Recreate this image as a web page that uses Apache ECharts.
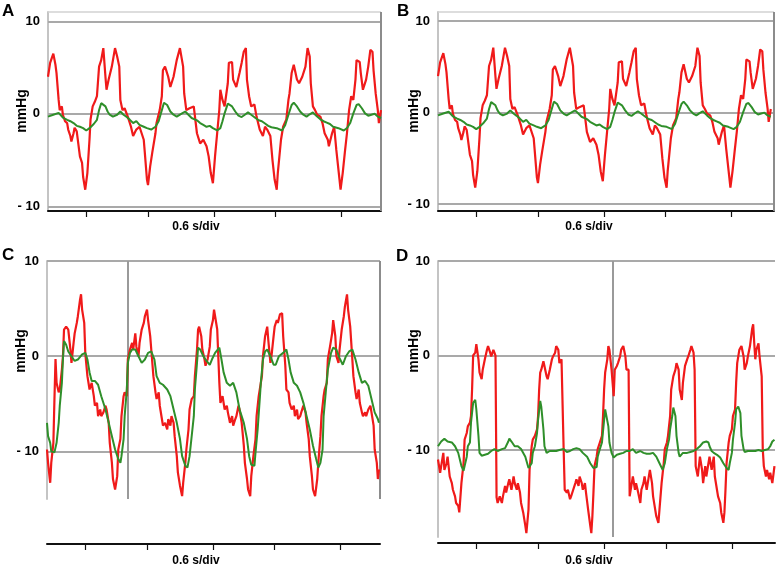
<!DOCTYPE html>
<html><head><meta charset="utf-8">
<script src="https://cdn.jsdelivr.net/npm/echarts@6/dist/echarts.min.js"></script>
<style>html,body{margin:0;padding:0;background:#fff}#c{width:778px;height:567px}</style>
</head><body><div id="c"></div>
<script>
// ---- data: [time (s), pressure (mmHg)] ----
const aRed = [[0.00,4.0],[0.02,5.5],[0.05,6.5],[0.07,5.3],[0.08,4.4],[0.10,1.5],[0.11,0.4],[0.13,0.8],[0.14,-0.1],[0.16,-0.8],[0.18,-1.0],[0.19,-1.7],[0.21,-2.4],[0.22,-3.0],[0.24,-2.1],[0.25,-1.5],[0.27,-1.9],[0.28,-2.8],[0.30,-4.6],[0.32,-5.3],[0.33,-6.8],[0.35,-8.2],[0.37,-6.4],[0.39,-2.8],[0.40,-0.6],[0.42,0.8],[0.44,1.3],[0.46,1.9],[0.48,5.1],[0.50,5.8],[0.52,7.1],[0.54,4.0],[0.55,2.6],[0.57,3.7],[0.60,5.1],[0.63,7.1],[0.65,6.2],[0.67,5.1],[0.68,1.5],[0.70,0.4],[0.72,0.6],[0.75,-0.3],[0.78,-1.4],[0.80,-2.4],[0.83,-1.7],[0.86,-1.4],[0.90,-2.8],[0.91,-4.2],[0.93,-7.1],[0.94,-7.7],[0.96,-5.7],[0.98,-4.2],[1.01,-2.1],[1.02,-1.0],[1.05,0.4],[1.07,1.9],[1.08,4.7],[1.10,5.1],[1.13,4.0],[1.15,2.9],[1.18,4.0],[1.21,5.8],[1.24,7.1],[1.27,5.1],[1.28,2.2],[1.30,0.4],[1.33,0.6],[1.37,0.8],[1.40,-2.1],[1.43,-3.2],[1.46,-2.8],[1.49,-3.5],[1.51,-4.6],[1.53,-6.4],[1.55,-7.5],[1.57,-4.6],[1.59,-2.1],[1.61,0.4],[1.62,2.6],[1.64,1.5],[1.66,0.8],[1.69,3.3],[1.70,5.5],[1.73,5.6],[1.74,3.7],[1.77,2.9],[1.80,4.4],[1.82,5.5],[1.84,6.7],[1.86,7.1],[1.87,3.7],[1.89,1.9],[1.91,0.8],[1.94,1.0],[1.96,-0.3],[1.99,-1.7],[2.02,-2.4],[2.04,-1.4],[2.06,-1.7],[2.09,-2.4],[2.11,-5.0],[2.13,-7.1],[2.15,-8.2],[2.16,-6.4],[2.19,-2.8],[2.21,-1.4],[2.24,-0.6],[2.26,1.5],[2.27,2.2],[2.29,4.4],[2.31,5.3],[2.34,3.7],[2.36,3.3],[2.39,4.0],[2.42,5.1],[2.44,7.1],[2.46,6.2],[2.47,3.3],[2.49,0.8],[2.51,0.4],[2.53,-0.1],[2.56,-0.3],[2.58,-1.0],[2.60,-2.1],[2.63,-2.8],[2.64,-3.5],[2.67,-2.1],[2.69,-1.4],[2.71,-3.9],[2.74,-7.1],[2.75,-8.2],[2.77,-6.4],[2.79,-4.2],[2.81,-2.1],[2.83,0.4],[2.85,1.9],[2.87,1.5],[2.89,3.7],[2.90,5.8],[2.93,5.6],[2.94,4.4],[2.96,2.6],[2.99,3.7],[3.01,5.1],[3.03,6.9],[3.05,6.7],[3.06,4.7],[3.08,2.2],[3.10,0.4],[3.11,-1.0],[3.13,0.4]];
const aGreen = [[0.00,-0.3],[0.05,-0.1],[0.10,0.1],[0.14,-0.4],[0.18,-0.65],[0.21,-0.8],[0.24,-1.0],[0.27,-1.3],[0.30,-1.4],[0.33,-1.55],[0.36,-1.8],[0.39,-1.55],[0.43,-1.1],[0.46,-0.65],[0.48,0.4],[0.50,1.15],[0.54,0.8],[0.56,0.25],[0.58,-0.1],[0.61,-0.3],[0.65,-0.1],[0.68,0.25],[0.71,-0.1],[0.74,-0.35],[0.77,-0.65],[0.80,-1.0],[0.83,-0.8],[0.86,-1.2],[0.90,-1.4],[0.93,-1.55],[0.97,-1.7],[1.01,-1.4],[1.04,-0.8],[1.07,0.4],[1.09,1.2],[1.12,0.95],[1.15,0.25],[1.18,-0.1],[1.21,-0.3],[1.26,0.05],[1.29,0.25],[1.32,-0.1],[1.35,-0.45],[1.40,-0.7],[1.43,-1.0],[1.46,-1.2],[1.49,-1.4],[1.52,-1.3],[1.55,-1.55],[1.59,-1.8],[1.62,-1.55],[1.64,-0.8],[1.66,0.05],[1.69,1.1],[1.73,0.8],[1.76,0.25],[1.79,-0.2],[1.82,-0.35],[1.85,-0.1],[1.88,0.15],[1.91,-0.1],[1.95,-0.45],[1.98,-0.7],[2.01,-0.8],[2.04,-1.05],[2.07,-1.3],[2.10,-1.45],[2.15,-1.55],[2.20,-1.8],[2.23,-1.2],[2.26,-0.1],[2.29,0.95],[2.31,1.2],[2.34,0.8],[2.37,0.25],[2.40,-0.1],[2.43,-0.3],[2.46,-0.05],[2.49,0.15],[2.53,-0.3],[2.56,-0.6],[2.59,-0.8],[2.62,-0.95],[2.65,-1.1],[2.68,-1.4],[2.73,-1.55],[2.78,-1.8],[2.81,-1.55],[2.84,-1.0],[2.87,0.05],[2.90,0.95],[2.92,1.05],[2.95,0.6],[2.98,0.05],[3.01,-0.2],[3.04,-0.1],[3.07,0.0],[3.10,-0.3],[3.13,-0.45]];
const bRed = aRed;
const bGreen = aGreen;
const cRed = [[0.00,-9.8],[0.01,-11.2],[0.03,-13.3],[0.04,-11.2],[0.06,-9.1],[0.07,-4.5],[0.08,-0.3],[0.09,-2.8],[0.11,-3.8],[0.12,-3.5],[0.14,-1.4],[0.15,0.0],[0.16,2.8],[0.18,3.1],[0.20,2.8],[0.22,0.7],[0.23,-0.7],[0.25,1.4],[0.26,2.4],[0.28,3.5],[0.29,4.2],[0.31,5.9],[0.32,6.5],[0.33,4.9],[0.35,3.5],[0.36,0.3],[0.38,-2.1],[0.40,-3.5],[0.42,-2.8],[0.44,-4.2],[0.45,-5.2],[0.47,-4.9],[0.48,-6.3],[0.50,-5.6],[0.51,-6.3],[0.53,-5.9],[0.55,-5.2],[0.56,-5.6],[0.58,-7.0],[0.59,-9.1],[0.61,-11.2],[0.62,-12.9],[0.64,-14.0],[0.66,-12.6],[0.67,-9.8],[0.69,-8.7],[0.70,-6.3],[0.72,-4.2],[0.73,-3.8],[0.75,-4.2],[0.76,-0.3],[0.78,0.7],[0.80,1.4],[0.81,0.7],[0.83,2.4],[0.84,1.0],[0.86,0.0],[0.87,1.4],[0.89,2.8],[0.91,3.5],[0.92,4.2],[0.94,4.9],[0.95,3.8],[0.97,2.1],[0.98,0.7],[1.00,-2.1],[1.02,-3.8],[1.03,-4.5],[1.05,-3.8],[1.06,-5.2],[1.08,-6.6],[1.09,-7.3],[1.11,-7.0],[1.13,-7.7],[1.14,-6.6],[1.16,-7.3],[1.17,-6.3],[1.19,-7.0],[1.20,-8.4],[1.22,-10.5],[1.23,-12.2],[1.25,-13.6],[1.27,-14.7],[1.28,-13.3],[1.30,-11.2],[1.31,-9.8],[1.33,-7.7],[1.34,-5.6],[1.36,-4.5],[1.38,-4.2],[1.39,-2.1],[1.41,0.7],[1.42,2.8],[1.43,3.1],[1.45,2.1],[1.46,0.7],[1.48,-0.3],[1.49,-1.0],[1.51,-0.3],[1.53,1.0],[1.54,2.8],[1.56,3.8],[1.57,4.9],[1.58,4.2],[1.60,2.8],[1.61,0.0],[1.62,-2.8],[1.63,-4.9],[1.65,-4.2],[1.67,-5.6],[1.69,-5.2],[1.70,-5.9],[1.72,-7.0],[1.74,-6.3],[1.75,-7.3],[1.77,-6.6],[1.78,-6.3],[1.80,-5.2],[1.81,-5.6],[1.83,-7.0],[1.85,-9.4],[1.86,-11.2],[1.88,-12.9],[1.89,-14.0],[1.91,-14.7],[1.92,-12.6],[1.94,-10.5],[1.96,-8.7],[1.97,-6.3],[1.99,-4.2],[2.00,-3.5],[2.02,-2.1],[2.03,0.0],[2.05,2.1],[2.07,3.1],[2.08,1.7],[2.10,-0.7],[2.11,0.0],[2.13,2.1],[2.14,3.1],[2.16,3.8],[2.17,3.5],[2.19,4.4],[2.21,4.5],[2.22,2.1],[2.24,-1.0],[2.25,-3.5],[2.27,-3.8],[2.28,-4.9],[2.30,-5.6],[2.32,-5.2],[2.33,-6.3],[2.35,-5.6],[2.36,-6.6],[2.38,-6.3],[2.39,-5.9],[2.41,-5.2],[2.43,-5.9],[2.44,-7.0],[2.46,-8.7],[2.47,-10.5],[2.49,-12.6],[2.50,-14.0],[2.52,-14.7],[2.54,-12.9],[2.55,-11.2],[2.57,-8.4],[2.58,-6.3],[2.60,-4.2],[2.61,-3.5],[2.63,-2.8],[2.64,-0.3],[2.66,1.0],[2.68,2.4],[2.69,3.8],[2.71,2.1],[2.72,0.0],[2.74,-0.7],[2.75,0.7],[2.77,2.8],[2.79,4.2],[2.80,5.2],[2.82,6.5],[2.83,4.9],[2.85,3.1],[2.86,1.4],[2.88,-2.1],[2.90,-3.8],[2.91,-4.5],[2.93,-3.5],[2.94,-4.9],[2.96,-5.9],[2.97,-6.3],[2.99,-5.9],[3.00,-6.3],[3.02,-5.6],[3.04,-5.2],[3.05,-5.9],[3.07,-7.3],[3.08,-9.8],[3.10,-11.2],[3.11,-12.9],[3.12,-11.9]];
const cGreen = [[0.00,-7.0],[0.01,-8.4],[0.03,-9.1],[0.04,-10.0],[0.07,-10.1],[0.09,-9.1],[0.11,-7.0],[0.12,-5.2],[0.14,-2.8],[0.15,-0.3],[0.16,1.6],[0.18,1.2],[0.20,0.5],[0.23,0.0],[0.26,-0.5],[0.29,-0.35],[0.33,0.2],[0.36,0.35],[0.38,-0.35],[0.40,-1.7],[0.42,-2.6],[0.45,-2.6],[0.48,-3.0],[0.51,-4.2],[0.55,-5.6],[0.58,-7.0],[0.61,-8.4],[0.64,-9.8],[0.67,-10.8],[0.69,-11.2],[0.70,-10.5],[0.72,-8.7],[0.73,-6.3],[0.75,-3.5],[0.76,-0.7],[0.78,0.35],[0.80,0.7],[0.83,0.7],[0.86,0.0],[0.89,-0.7],[0.92,-0.35],[0.95,0.35],[0.98,0.5],[1.01,-0.35],[1.03,-2.1],[1.06,-2.8],[1.09,-3.0],[1.13,-3.5],[1.16,-4.2],[1.19,-5.6],[1.22,-7.0],[1.25,-8.7],[1.27,-10.5],[1.30,-11.5],[1.32,-11.7],[1.34,-10.5],[1.36,-8.4],[1.38,-6.3],[1.39,-3.5],[1.41,-0.7],[1.42,0.9],[1.44,0.7],[1.47,0.0],[1.50,-0.5],[1.53,-0.9],[1.55,-0.35],[1.58,0.35],[1.62,0.9],[1.64,-0.35],[1.66,-1.7],[1.69,-2.8],[1.72,-3.1],[1.75,-2.8],[1.78,-3.8],[1.81,-5.6],[1.85,-7.0],[1.88,-8.7],[1.90,-10.5],[1.92,-11.4],[1.95,-11.5],[1.96,-10.1],[1.98,-7.7],[2.00,-4.5],[2.01,-2.8],[2.03,-0.35],[2.05,0.5],[2.07,0.7],[2.10,0.0],[2.13,-0.9],[2.15,-0.9],[2.18,0.0],[2.22,0.35],[2.25,0.7],[2.27,-0.35],[2.29,-1.7],[2.32,-2.8],[2.35,-3.1],[2.38,-3.8],[2.41,-4.9],[2.44,-6.3],[2.47,-7.7],[2.50,-9.4],[2.53,-10.8],[2.55,-11.7],[2.57,-11.2],[2.59,-9.8],[2.60,-6.3],[2.62,-3.8],[2.64,-1.4],[2.67,0.35],[2.69,0.9],[2.72,0.7],[2.75,-0.2],[2.78,-0.9],[2.81,0.0],[2.84,0.5],[2.87,0.7],[2.90,-0.35],[2.93,-1.7],[2.96,-2.8],[2.99,-2.6],[3.02,-3.1],[3.05,-4.5],[3.08,-5.9],[3.11,-6.6],[3.12,-7.0]];
const dRed = [[0.00,-11.0],[0.02,-12.4],[0.03,-11.7],[0.05,-10.3],[0.06,-12.1],[0.08,-11.4],[0.09,-10.7],[0.11,-12.8],[0.13,-13.5],[0.14,-14.2],[0.16,-14.9],[0.17,-15.6],[0.19,-15.9],[0.20,-16.6],[0.22,-13.5],[0.24,-11.4],[0.25,-8.9],[0.27,-8.2],[0.28,-7.5],[0.30,-7.1],[0.31,-6.4],[0.32,-3.6],[0.33,0.0],[0.35,0.3],[0.36,1.2],[0.38,-0.4],[0.39,-1.8],[0.41,-2.5],[0.42,-1.5],[0.44,-0.4],[0.46,0.6],[0.47,1.0],[0.49,0.3],[0.50,-0.1],[0.52,0.6],[0.53,0.3],[0.54,0.0],[0.55,-15.0],[0.56,-15.6],[0.58,-14.9],[0.60,-15.6],[0.61,-14.9],[0.63,-13.8],[0.64,-14.5],[0.66,-13.5],[0.67,-13.1],[0.69,-14.2],[0.71,-12.8],[0.72,-13.5],[0.74,-14.2],[0.75,-13.5],[0.77,-14.5],[0.78,-15.6],[0.80,-16.6],[0.82,-18.0],[0.83,-18.8],[0.85,-16.3],[0.86,-12.1],[0.88,-9.6],[0.89,-8.9],[0.91,-8.5],[0.93,-7.8],[0.94,-6.4],[0.95,-3.6],[0.96,-1.8],[0.97,-1.5],[0.99,-0.6],[1.00,-0.8],[1.02,-2.2],[1.03,-2.5],[1.05,-1.5],[1.07,-0.4],[1.08,-0.1],[1.10,0.3],[1.11,1.0],[1.13,0.6],[1.14,-0.8],[1.16,-0.4],[1.17,-0.4],[1.18,-9.9],[1.19,-14.2],[1.21,-14.5],[1.22,-14.2],[1.24,-15.2],[1.25,-14.9],[1.27,-14.2],[1.29,-13.5],[1.30,-13.1],[1.32,-13.8],[1.33,-12.8],[1.35,-13.5],[1.36,-14.2],[1.38,-13.5],[1.39,-14.5],[1.41,-16.3],[1.43,-18.0],[1.44,-18.8],[1.45,-17.0],[1.46,-14.5],[1.47,-11.7],[1.49,-10.7],[1.50,-9.9],[1.52,-9.2],[1.54,-8.5],[1.55,-6.4],[1.56,-3.6],[1.57,-1.8],[1.59,-0.4],[1.60,1.0],[1.61,0.6],[1.63,-1.5],[1.65,-4.3],[1.66,-1.5],[1.68,-1.1],[1.69,-0.8],[1.71,-0.1],[1.72,0.6],[1.74,1.0],[1.76,-0.1],[1.77,-1.5],[1.79,-1.5],[1.80,-14.9],[1.82,-13.5],[1.83,-12.8],[1.85,-14.2],[1.86,-13.5],[1.88,-14.5],[1.90,-15.6],[1.91,-14.2],[1.93,-13.5],[1.94,-12.8],[1.96,-14.2],[1.97,-13.5],[1.99,-12.1],[2.01,-13.5],[2.02,-14.9],[2.04,-16.3],[2.05,-17.0],[2.07,-17.7],[2.08,-16.3],[2.10,-13.5],[2.12,-11.4],[2.13,-9.9],[2.15,-9.2],[2.16,-8.5],[2.18,-6.4],[2.19,-3.6],[2.20,-2.9],[2.21,-2.2],[2.23,-1.5],[2.24,-0.8],[2.26,-1.5],[2.27,-3.6],[2.29,-4.7],[2.30,-2.9],[2.32,-1.1],[2.34,-0.4],[2.35,-0.1],[2.37,0.6],[2.38,1.0],[2.40,0.3],[2.41,-1.5],[2.42,-11.7],[2.44,-12.8],[2.46,-10.7],[2.48,-12.1],[2.49,-13.5],[2.51,-11.7],[2.52,-12.8],[2.54,-11.4],[2.55,-10.7],[2.57,-12.1],[2.59,-10.7],[2.60,-12.8],[2.62,-14.2],[2.63,-14.9],[2.65,-15.6],[2.66,-16.6],[2.68,-17.7],[2.69,-16.6],[2.70,-14.2],[2.71,-11.4],[2.73,-9.2],[2.74,-8.5],[2.76,-7.8],[2.77,-6.4],[2.79,-5.7],[2.80,-2.9],[2.81,-0.8],[2.83,0.6],[2.85,1.0],[2.87,-0.1],[2.88,-1.5],[2.90,-0.8],[2.91,-0.1],[2.93,1.0],[2.95,2.8],[2.96,3.3],[2.97,1.3],[2.98,-0.4],[2.99,0.6],[3.01,1.3],[3.02,-0.1],[3.04,-2.2],[3.05,-9.9],[3.06,-11.7],[3.08,-12.8],[3.09,-12.1],[3.11,-13.1],[3.12,-12.4],[3.14,-13.5],[3.16,-11.7]];
const dGreen = [[0.00,-9.6],[0.03,-9.1],[0.06,-8.8],[0.09,-9.1],[0.13,-9.2],[0.16,-9.6],[0.19,-10.3],[0.22,-11.7],[0.24,-12.2],[0.25,-11.7],[0.27,-10.7],[0.28,-9.6],[0.30,-9.2],[0.31,-7.1],[0.33,-5.0],[0.35,-4.7],[0.36,-5.7],[0.38,-8.5],[0.39,-10.3],[0.41,-10.6],[0.44,-10.5],[0.47,-10.4],[0.50,-10.1],[0.53,-9.9],[0.56,-10.1],[0.60,-9.9],[0.63,-9.8],[0.66,-9.1],[0.67,-8.8],[0.69,-9.1],[0.72,-9.6],[0.75,-9.6],[0.78,-9.9],[0.82,-10.7],[0.85,-11.9],[0.86,-12.1],[0.88,-11.4],[0.89,-10.3],[0.91,-9.6],[0.93,-8.2],[0.94,-6.8],[0.96,-4.8],[0.97,-5.4],[0.99,-7.8],[1.00,-9.6],[1.02,-10.3],[1.05,-10.1],[1.08,-10.1],[1.11,-10.1],[1.14,-10.0],[1.18,-9.9],[1.21,-10.2],[1.24,-10.1],[1.27,-9.9],[1.30,-9.8],[1.33,-9.9],[1.36,-10.3],[1.40,-10.7],[1.43,-11.4],[1.46,-11.9],[1.47,-12.1],[1.49,-11.8],[1.50,-10.7],[1.52,-9.9],[1.54,-9.2],[1.55,-8.0],[1.57,-5.7],[1.58,-5.5],[1.60,-7.5],[1.61,-9.2],[1.63,-10.3],[1.65,-10.8],[1.68,-10.5],[1.71,-10.4],[1.74,-10.3],[1.77,-10.1],[1.80,-10.1],[1.83,-9.9],[1.86,-10.3],[1.90,-10.1],[1.93,-10.3],[1.96,-10.4],[1.99,-10.4],[2.02,-10.3],[2.05,-10.7],[2.08,-11.4],[2.11,-12.1],[2.13,-11.4],[2.15,-9.9],[2.17,-8.9],[2.18,-7.8],[2.20,-6.4],[2.21,-5.5],[2.23,-6.4],[2.24,-8.5],[2.26,-10.3],[2.27,-10.7],[2.30,-10.3],[2.34,-10.3],[2.37,-10.2],[2.40,-10.1],[2.43,-9.9],[2.46,-9.6],[2.49,-9.2],[2.52,-9.1],[2.54,-9.2],[2.55,-9.6],[2.57,-10.1],[2.59,-10.3],[2.62,-10.5],[2.65,-10.8],[2.68,-11.4],[2.71,-11.9],[2.73,-12.1],[2.74,-11.4],[2.76,-10.3],[2.77,-8.9],[2.79,-7.1],[2.80,-5.7],[2.82,-5.4],[2.84,-6.1],[2.85,-8.5],[2.87,-9.9],[2.88,-10.2],[2.91,-10.1],[2.95,-10.1],[2.98,-10.1],[3.01,-10.0],[3.04,-10.1],[3.07,-10.0],[3.10,-9.9],[3.12,-9.6],[3.14,-9.1],[3.16,-8.9]];

const yLabelValues = [-10, 0, 10];
const tickTimes = [0.36, 0.94, 1.56, 2.14, 2.76];
const cursorC = [0.76];
const cursorD = [1.64];
const unitText = 'mmHg';
const timeBaseText = '0.6 s/div';

// ---- layout / styling ----
const FONT = '"Liberation Sans", Arial, Helvetica, sans-serif';
const panels = [
  { letter: 'A', red: aRed, green: aGreen, left: 48, top: 12, width: 333, height: 199, ymin: -10.5, ymax: 11, xmax: 3.13,
    offset: 0, grid: [10, 0, -10], topFrame: true, cursors: [], letterPos: [2, 11], unitPos: [22, 111], basePos: [196, 227] },
  { letter: 'B', red: bRed, green: bGreen, left: 438, top: 12, width: 336, height: 199, ymin: -10.75, ymax: 11, xmax: 3.16,
    offset: 0, grid: [10, 0, -10], topFrame: true, cursors: [], letterPos: [397, 11], unitPos: [414, 111], basePos: [589, 227] },
  { letter: 'C', red: cRed, green: cGreen, left: 47, top: 261, width: 333, height: 238, ymin: -15, ymax: 10, xmax: 3.13,
    offset: 45, grid: [10, 0, -10], topFrame: false, cursors: cursorC, letterPos: [2, 255], unitPos: [21, 351], basePos: [196, 561] },
  { letter: 'D', red: dRed, green: dGreen, left: 438, top: 261, width: 337, height: 276, ymin: -19.2, ymax: 10, xmax: 3.165,
    offset: 6, grid: [10, 0, -10], topFrame: false, cursors: cursorD, letterPos: [396, 256], unitPos: [414, 351], basePos: [589, 561] }
];

const grids = [], xAxes = [], yAxes = [], series = [], graphics = [];
panels.forEach((p, i) => {
  grids.push({ left: p.left, top: p.top, width: p.width, height: p.height, containLabel: false });
  xAxes.push({
    type: 'value', gridIndex: i, min: 0, max: p.xmax, offset: p.offset,
    axisLine: { show: true, onZero: false, lineStyle: { color: '#111', width: 2 } },
    axisTick: { show: true, customValues: tickTimes, length: 6, lineStyle: { color: '#111', width: 1.2 } },
    axisLabel: { show: false }, splitLine: { show: false }
  });
  yAxes.push({
    type: 'value', gridIndex: i, min: p.ymin, max: p.ymax,
    axisLine: { show: true, onZero: false, lineStyle: { color: '#c4c4c4', width: 2 } },
    axisTick: { show: false, customValues: yLabelValues },
    axisLabel: { show: true, customValues: yLabelValues, margin: 8, color: '#000',
      fontFamily: FONT, fontWeight: 'bold', fontSize: 13,
      formatter: v => v < 0 ? '- ' + Math.abs(v) : String(v) },
    splitLine: { show: false }
  });
  const lines = p.grid.map(v => ({ yAxis: v, lineStyle: { color: '#a9a9a9', width: 2, type: 'solid' } }));
  if (p.topFrame) lines.push({ yAxis: p.ymax, lineStyle: { color: '#d2d2d2', width: 1.5, type: 'solid' } });
  p.cursors.forEach(t => lines.push({ xAxis: t, lineStyle: { color: '#9a9a9a', width: 2, type: 'solid' } }));
  lines.push({ xAxis: p.xmax, lineStyle: { color: '#8c8c8c', width: 2, type: 'solid' } });
  series.push({
    type: 'line', xAxisIndex: i, yAxisIndex: i, data: p.red,
    symbol: 'none', showSymbol: false, z: 3, animation: false, silent: true,
    lineStyle: { color: '#f01a1a', width: 2.2 },
    markLine: { silent: true, symbol: ['none', 'none'], animation: false, z: 1,
      label: { show: false }, emphasis: { disabled: true }, lineStyle: { type: 'solid' }, data: lines }
  });
  series.push({
    type: 'line', xAxisIndex: i, yAxisIndex: i, data: p.green,
    symbol: 'none', showSymbol: false, z: 4, animation: false, silent: true,
    lineStyle: { color: '#2f8f2a', width: 2 }
  });
  graphics.push({ type: 'text', x: p.letterPos[0], y: p.letterPos[1],
    style: { text: p.letter, font: 'bold 17px ' + FONT, fill: '#000', align: 'left', verticalAlign: 'middle', textAlign: 'left', textVerticalAlign: 'middle' } });
  graphics.push({ type: 'text', x: p.unitPos[0], y: p.unitPos[1], rotation: Math.PI / 2,
    style: { text: unitText, font: 'bold 14px ' + FONT, fill: '#000', align: 'center', verticalAlign: 'middle', textAlign: 'center', textVerticalAlign: 'middle' } });
  graphics.push({ type: 'text', x: p.basePos[0], y: p.basePos[1],
    style: { text: timeBaseText, font: 'bold 12px ' + FONT, fill: '#000', align: 'center', verticalAlign: 'middle', textAlign: 'center', textVerticalAlign: 'middle' } });
});

const chart = echarts.init(document.getElementById('c'), null, { renderer: 'canvas' });
chart.setOption({
  animation: false,
  backgroundColor: '#fff',
  grid: grids, xAxis: xAxes, yAxis: yAxes, series: series, graphic: graphics
});
</script></body></html>
